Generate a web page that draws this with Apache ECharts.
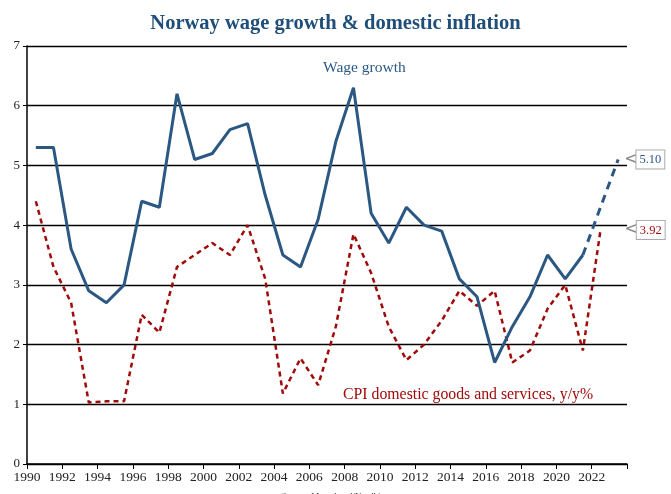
<!DOCTYPE html>
<html>
<head>
<meta charset="utf-8">
<script src="https://cdn.jsdelivr.net/npm/echarts@6/dist/echarts.min.js"></script>
<style>
  html, body { margin: 0; padding: 0; background: #fff; }
  #chart { width: 671px; height: 494px; }
</style>
</head>
<body>
<div id="chart"></div>
<script>
// annual data, plotted mid-year
const years = [1990, 1991, 1992, 1993, 1994, 1995, 1996, 1997, 1998, 1999,
  2000, 2001, 2002, 2003, 2004, 2005, 2006, 2007, 2008, 2009,
  2010, 2011, 2012, 2013, 2014, 2015, 2016, 2017, 2018, 2019,
  2020, 2021, 2022]
const wage = [5.3, 5.3, 3.6, 2.9, 2.7, 3.0, 4.4, 4.3, 6.2, 5.1,
  5.2, 5.6, 5.7, 4.5, 3.5, 3.3, 4.1, 5.4, 6.3, 4.2,
  3.7, 4.3, 4.0, 3.9, 3.1, 2.8, 1.7, 2.3, 2.8, 3.5,
  3.1, 3.5]
const wageFcstYears = [2021, 2023]
const wageFcst = [3.5, 5.1]
const cpi = [4.4, 3.3, 2.7, 1.03, 1.05, 1.05, 2.5, 2.2, 3.3, 3.5,
  3.7, 3.5, 4.0, 3.1, 1.18, 1.77, 1.32, 2.3, 3.85, 3.2,
  2.3, 1.74, 2.0, 2.4, 2.9, 2.65, 2.9, 1.7, 1.9, 2.6,
  3.0, 1.9, 3.92]
const xTicks = [1990, 1992, 1994, 1996, 1998, 2000, 2002, 2004, 2006, 2008,
  2010, 2012, 2014, 2016, 2018, 2020, 2022]

const blue = '#2b5883'
const red = '#a00a0a'
const serif = 'Liberation Serif'

const pts = (ys, vals) => vals.map((v, i) => [ys[i] + 0.5, v])

const boxLabel = (color, dist) => ({
    show: true,
    distance: dist,
    formatter: p => '{a|<}{b|' + p.value[1].toFixed(2) + '}',
    rich: {
        a: { color: '#8a8a8a', fontSize: 17, fontFamily: 'DejaVu Sans', padding: [0, -2, 0, 0] },
        b: {
            color: color, fontSize: 12.5, fontFamily: serif,
            borderColor: '#aaa', borderWidth: 1, backgroundColor: '#fff',
            padding: [3, 3, 2, 3]
        }
    }
})

const chart = echarts.init(document.getElementById('chart'))
chart.setOption({
    animation: false,
    title: [
        {
            text: 'Norway wage growth & domestic inflation',
            left: 'center', top: 8,
            textStyle: { color: '#1f4e79', fontSize: 20.5, fontWeight: 'bold', fontFamily: serif }
        },
        {
            text: 'Wage growth', left: 318, top: 55,
            textStyle: { color: blue, fontSize: 15.5, fontWeight: 'normal', fontFamily: serif }
        },
        {
            text: 'CPI domestic goods and services, y/y%', left: 338, top: 382,
            textStyle: { color: red, fontSize: 15.8, fontWeight: 'normal', fontFamily: serif }
        },
        {
            text: 'Source: Macrobond/Nordkinn', left: 'center', top: 487,
            textStyle: { color: '#333', fontSize: 9, fontWeight: 'normal', fontFamily: serif }
        }
    ],
    grid: { left: 27, right: 44, top: 46, bottom: 30 },
    xAxis: {
        type: 'value', min: 1990, max: 2024, interval: 2,
        axisLine: { onZero: false, lineStyle: { color: '#000', width: 1.5 } },
        axisTick: { show: true, length: 5, lineStyle: { color: '#000' } },
        axisLabel: {
            color: '#222', fontSize: 13.5, fontFamily: serif, margin: 6,
            formatter: v => xTicks.includes(v) ? String(v) : ''
        },
        splitLine: { show: false }
    },
    yAxis: {
        type: 'value', min: 0, max: 7, interval: 1,
        axisLine: { show: true, lineStyle: { color: '#000', width: 1.5 } },
        axisTick: { show: true, length: 4, lineStyle: { color: '#000' } },
        axisLabel: { color: '#222', fontSize: 13, fontFamily: serif, margin: 7 },
        splitLine: { show: true, lineStyle: { color: '#000', width: 1.3 } }
    },
    series: [
        {
            name: 'CPI', type: 'line', data: pts(years, cpi),
            symbol: 'none', z: 3,
            lineStyle: { color: red, width: 2.5, type: [5, 4] },
            endLabel: boxLabel(red, 24)
        },
        {
            name: 'Wage growth', type: 'line', data: pts(years, wage),
            symbol: 'none', z: 4,
            lineStyle: { color: blue, width: 3 }
        },
        {
            name: 'Wage forecast', type: 'line', data: pts(wageFcstYears, wageFcst),
            symbol: 'none', z: 4,
            lineStyle: { color: blue, width: 3, type: [8, 6] },
            endLabel: boxLabel(blue, 6)
        }
    ]
})
</script>
</body>
</html>
